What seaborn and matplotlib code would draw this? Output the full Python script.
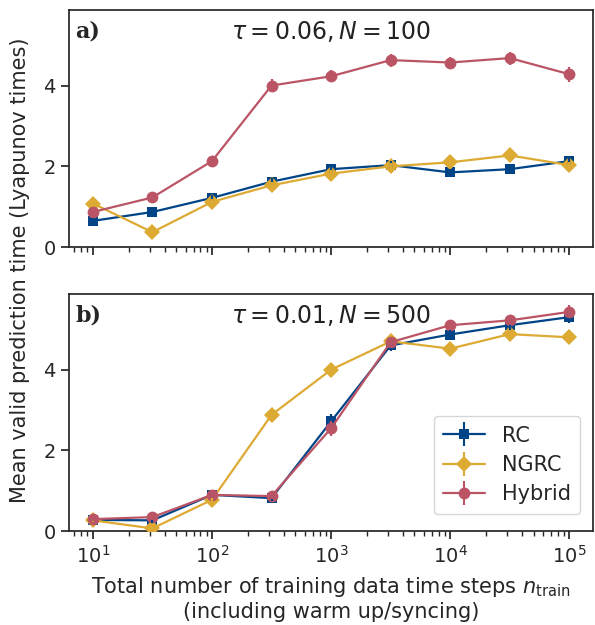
import numpy as np
import pandas as pd
import matplotlib
matplotlib.use("Agg")
import matplotlib.pyplot as plt
from matplotlib.lines import Line2D
import seaborn as sns

# training lengths (log spaced, half decades)
n_train = [10, 31.6, 100, 316, 1000, 3162, 10000, 31623, 100000]
models = ["RC", "NGRC", "Hybrid"]

# panel a: tau = 0.06, N = 100
rc_a = [0.65, 0.87, 1.22, 1.62, 1.93, 2.03, 1.85, 1.93, 2.13]
ngrc_a = [1.08, 0.37, 1.12, 1.53, 1.82, 2.00, 2.10, 2.27, 2.03]
hyb_a = [0.87, 1.23, 2.13, 4.00, 4.23, 4.63, 4.57, 4.68, 4.28]
rc_a_err = [0.06, 0.06, 0.07, 0.08, 0.09, 0.09, 0.08, 0.08, 0.09]
ngrc_a_err = [0.06, 0.05, 0.07, 0.08, 0.08, 0.08, 0.08, 0.08, 0.08]
hyb_a_err = [0.08, 0.10, 0.11, 0.16, 0.15, 0.16, 0.13, 0.16, 0.18]

# panel b: tau = 0.01, N = 500
rc_b = [0.28, 0.27, 0.90, 0.82, 2.72, 4.60, 4.87, 5.10, 5.30]
ngrc_b = [0.27, 0.07, 0.78, 2.88, 4.00, 4.70, 4.52, 4.88, 4.80]
hyb_b = [0.30, 0.35, 0.90, 0.87, 2.55, 4.68, 5.10, 5.22, 5.43]
rc_b_err = [0.05, 0.06, 0.07, 0.07, 0.18, 0.15, 0.12, 0.13, 0.15]
ngrc_b_err = [0.04, 0.03, 0.06, 0.07, 0.07, 0.07, 0.07, 0.07, 0.07]
hyb_b_err = [0.05, 0.06, 0.07, 0.07, 0.18, 0.14, 0.12, 0.12, 0.16]

titles = [r"$\tau = 0.06, N = 100$", r"$\tau = 0.01, N = 500$"]
panel_labels = ["a)", "b)"]

colors = {"RC": "#004488", "NGRC": "#DDAA33", "Hybrid": "#BB5566"}
markers = {"RC": "s", "NGRC": "D", "Hybrid": "o"}
msize = {"RC": 7.5, "NGRC": 8, "Hybrid": 8.5}

def to_frame(rc, ngrc, hyb, rc_e, ngrc_e, hyb_e):
    rows = []
    for name, vals, errs in [("RC", rc, rc_e), ("NGRC", ngrc, ngrc_e), ("Hybrid", hyb, hyb_e)]:
        for x, v, e in zip(n_train, vals, errs):
            rows.append({"n": x, "vpt": v, "err": e, "model": name})
    return pd.DataFrame(rows)

frames = [to_frame(rc_a, ngrc_a, hyb_a, rc_a_err, ngrc_a_err, hyb_a_err),
          to_frame(rc_b, ngrc_b, hyb_b, rc_b_err, ngrc_b_err, hyb_b_err)]

sns.set_theme(style="ticks")
plt.rcParams["font.family"] = ["DejaVu Sans"]
plt.rcParams["mathtext.fontset"] = "dejavusans"

fig, axes = plt.subplots(2, 1, figsize=(5.95, 6.25), dpi=100, sharex=True)
fig.subplots_adjust(left=0.116, right=0.997, top=0.984, bottom=0.150, hspace=0.198)

for ax, df, title, lab in zip(axes, frames, titles, panel_labels):
    sns.lineplot(data=df, x="n", y="vpt", hue="model", style="model",
                 palette=colors, markers=markers, dashes=False, ax=ax,
                 legend=False, linewidth=1.6, markersize=8,
                 markeredgewidth=0, zorder=3)
    # per-model marker sizes
    for line, name in zip(ax.get_lines(), models):
        line.set_markersize(msize[name])
    # vertical error bars over the markers
    for name in models:
        sub = df[df["model"] == name]
        ax.errorbar(sub["n"], sub["vpt"], yerr=sub["err"], fmt="none",
                    ecolor=colors[name], elinewidth=1.6, capsize=0, zorder=4)
    ax.set_xscale("log")
    ax.set_xlim(10 ** 0.8, 10 ** 5.2)
    ax.set_ylim(0, 5.87)
    ax.set_yticks([0, 2, 4])
    ax.set_xlabel("")
    ax.set_ylabel("")
    ax.tick_params(axis="both", labelsize=14, length=6)
    ax.tick_params(axis="x", which="minor", length=3.5)
    ax.text(0.5, 0.91, title, transform=ax.transAxes, ha="center", va="center",
            fontsize=17, color="#222222")
    ax.text(0.012, 0.91, lab, transform=ax.transAxes, ha="left", va="center",
            fontsize=16, fontweight="bold", family=["DejaVu Serif"])
    for s in ax.spines.values():
        s.set_visible(True)

axes[0].tick_params(axis="x", labelbottom=False)

handles = []
for name in models:
    h1 = Line2D([], [], color=colors[name], marker=markers[name], markersize=msize[name],
                markeredgewidth=0, linewidth=1.6)
    h2 = Line2D([], [], color=colors[name], marker="|", markersize=17,
                markeredgewidth=1.5, linestyle="none")
    handles.append((h1, h2))
axes[1].legend(handles, models, loc="lower right", fontsize=15, frameon=True,
               handlelength=2.0, borderpad=0.45, labelspacing=0.45,
               handletextpad=0.8, bbox_to_anchor=(0.995, 0.03))

fig.text(0.034, 0.568, "Mean valid prediction time (Lyapunov times)", rotation=90,
         ha="center", va="center", fontsize=15)
axes[1].set_xlabel("Total number of training data time steps $n_{\\mathrm{train}}$\n"
                   "(including warm up/syncing)", fontsize=15, labelpad=6)

fig.savefig("out.png", dpi=100)
